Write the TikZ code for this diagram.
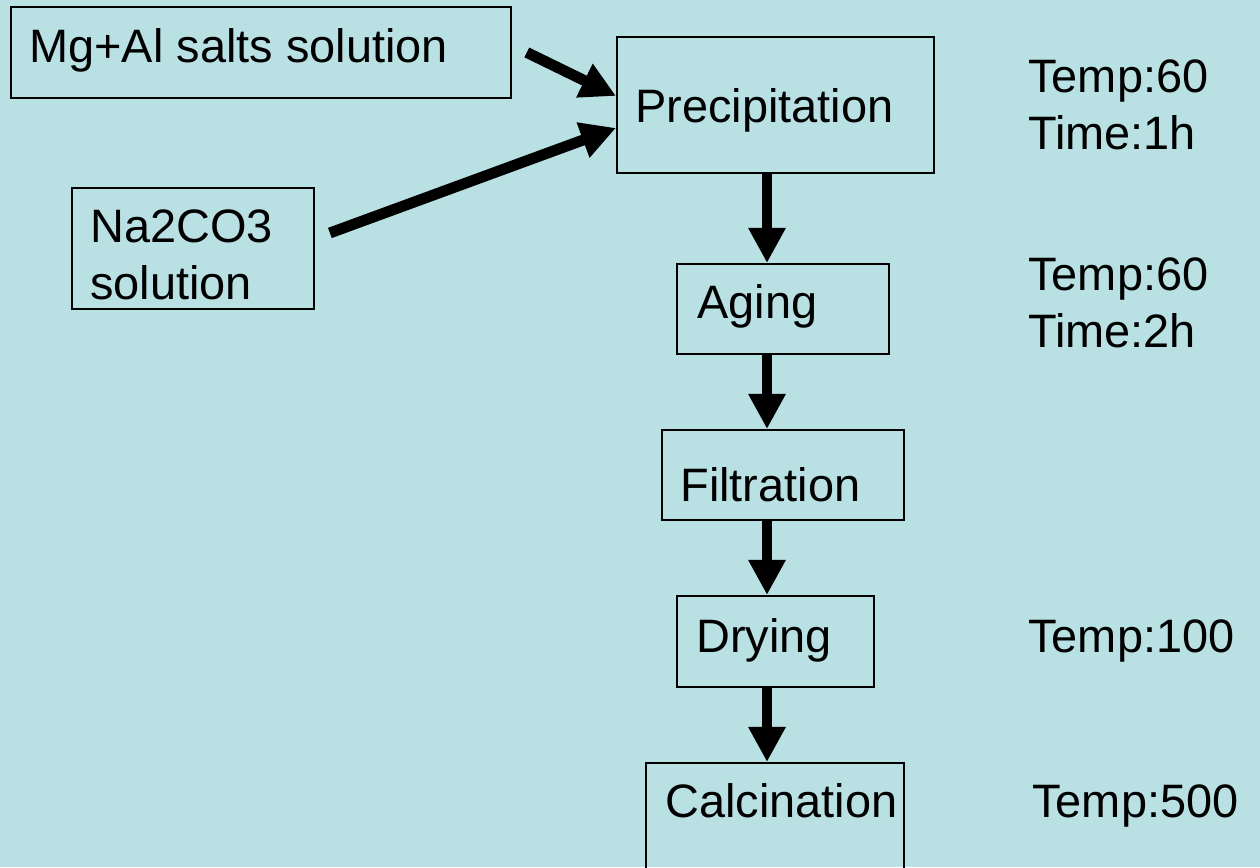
\documentclass[tikz,border=0pt]{standalone}
\usepackage{fontspec}
\setmainfont{Liberation Sans}
\usetikzlibrary{arrows.meta}
\definecolor{slidebg}{RGB}{185,224,227}
\tikzset{
  box/.style={draw=black, line width=1.1pt, inner sep=0pt, anchor=north west},
  txt/.style={inner sep=0pt, anchor=base west, align=left,
    font=\fontsize{26.7}{32.3}\selectfont},
  flow/.style={line width=6.2pt, -{Triangle[length=20pt,width=20pt]}},
}
\begin{document}
\begin{tikzpicture}[x=0.02cm,y=-0.02cm]
    
    \fill[slidebg] (0,0) rectangle (1260,867);
    \useasboundingbox (0,0) rectangle (1260,867);
    
    % boxes
    \node[box, minimum width=10cm, minimum height=1.82cm] (mg) at (10,6) {};
    \node[box, minimum width=6.34cm, minimum height=2.72cm] (prec) at (616,36) {};
    \node[box, minimum width=4.84cm, minimum height=2.42cm] (na) at (71,187) {};
    \node[box, minimum width=4.24cm, minimum height=1.8cm] (aging) at (676,263) {};
    \node[box, minimum width=4.84cm, minimum height=1.8cm] (filt) at (661,429) {};
    \node[box, minimum width=3.94cm, minimum height=1.82cm] (dry) at (676,595) {};
    \node[box, minimum width=5.16cm, minimum height=2.3cm] (calc) at (645,762) {};
    
    % texts (base of a two-line node = last line)
    \node[txt] (mgtxt) at (29,62) {Mg+Al salts solution};
    \node[txt] (prectxt) at (635,122) {Precipitation};
    \node[txt] (natxt) at (90,299) {Na2CO3\\solution};
    \node[txt] (agingtxt) at (697,318) {Aging};
    \node[txt] (filttxt) at (680,501) {Filtration};
    \node[txt] (drytxt) at (696,652) {Drying};
    \node[txt] (calctxt) at (665,817) {Calcination};
    
    \node[txt] (T1) at (1028,149) {Temp:60\\Time:1h};
    \node[txt] (T2) at (1028,347) {Temp:60\\Time:2h};
    \node[txt] (T3) at (1028,652) {Temp:100};
    \node[txt] (T4) at (1032,817) {Temp:500};
    
    % arrows
    \coordinate (spine) at (767,0);
    \draw[flow] ([xshift=0.3cm]mg.east) -- ([yshift=0.18cm]prec.west);
    \draw[flow] ([xshift=0.3cm,yshift=0.31cm]na.east) -- ([yshift=-0.46cm]prec.west);
    \draw[flow] (prec.south -| spine) -- (aging.north -| spine);
    \draw[flow] (aging.south -| spine) -- (filt.north -| spine);
    \draw[flow] (filt.south -| spine) -- (dry.north -| spine);
    \draw[flow] (dry.south -| spine) -- (calc.north -| spine);
    
\end{tikzpicture}
\end{document}
